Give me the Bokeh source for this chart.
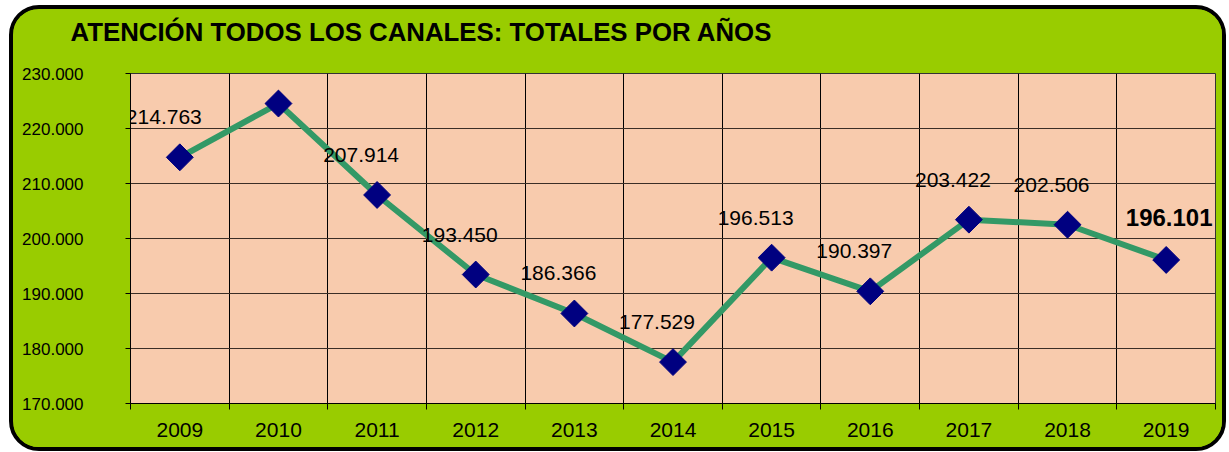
import math
from bokeh.plotting import figure
from bokeh.models import FixedTicker, Title
from bokeh.core.properties import value
from bokeh.embed import file_html
from bokeh.resources import INLINE

# ---- data ----
years = [2009, 2010, 2011, 2012, 2013, 2014, 2015, 2016, 2017, 2018, 2019]
totals = [214763, 224537, 207914, 193450, 186366, 177529, 196513, 190397, 203422, 202506, 196101]
y_ticks = [170000, 180000, 190000, 200000, 210000, 220000, 230000]
y_tick_labels = ["170.000", "180.000", "190.000", "200.000", "210.000", "220.000", "230.000"]
title_text = "ATENCIÓN TODOS LOS CANALES: TOTALES POR AÑOS"

labels = [f"{v:,}".replace(",", ".") for v in totals]
boundaries = [y - 0.5 for y in years] + [years[-1] + 0.5]

FONT = "Liberation Sans"
GREEN_BG = "#99CC00"

p = figure(
    title=None,
    width=1209, height=438,
    x_range=(years[0] - 0.5, years[-1] + 0.5),
    y_range=(y_ticks[0], y_ticks[-1]),
    output_backend="svg", toolbar_location=None,
    min_border_left=117, min_border_right=15, min_border_top=63, min_border_bottom=52,
    background_fill_color="#F8CBAD", border_fill_color=GREEN_BG,
    outline_line_color="#333333", outline_line_width=1,
    styles={"box-sizing": "content-box", "position": "absolute",
            "left": "9px", "top": "5px",
            "border": "4px solid black", "border-radius": "30px",
            "overflow": "hidden", "background-color": GREEN_BG},
)

# spacer panel between the frame and the title, then the title itself
p.add_layout(Title(text=" ", text_font_size="1px", standoff=15), "above")
p.add_layout(Title(text=title_text, text_font=FONT, text_font_size="25.8px",
                   text_font_style="bold", text_color="black", align="left",
                   vertical_align="top", offset=-60, standoff=16), "above")

# x axis
xa = p.xaxis[0]
xa.ticker = FixedTicker(ticks=years, minor_ticks=boundaries)
xa.major_tick_out = 0
xa.major_tick_in = 0
xa.minor_tick_out = 6
xa.minor_tick_in = 0
xa.minor_tick_line_color = "black"
xa.axis_line_color = "black"
xa.major_label_text_font = FONT
xa.major_label_text_font_size = "21px"
xa.major_label_text_color = "black"
xa.major_label_standoff = 13

# y axis
ya = p.yaxis[0]
ya.ticker = FixedTicker(ticks=y_ticks)
ya.major_label_overrides = dict(zip(y_ticks, y_tick_labels))
ya.major_tick_out = 5
ya.major_tick_in = 0
ya.minor_tick_line_color = None
ya.axis_line_color = "black"
ya.major_tick_line_color = "black"
ya.major_label_text_font = FONT
ya.major_label_text_font_size = "17px"
ya.major_label_text_color = "black"
ya.major_label_standoff = 42

# grids
p.xgrid.ticker = FixedTicker(ticks=boundaries)
p.xgrid.grid_line_color = "black"
p.xgrid.grid_line_width = 1
p.ygrid.ticker = FixedTicker(ticks=y_ticks)
p.ygrid.grid_line_color = "#3b2e26"
p.ygrid.grid_line_width = 1

# series
p.line(years, totals, line_color="#339966", line_width=6)
p.scatter(years, totals, marker="square", size=19, angle=math.pi / 4,
          fill_color="#000080", line_color="#000080")

# data labels
p.text(years[:-1], totals[:-1], text=labels[:-1], x_offset=-16, y_offset=-40,
       text_font=value(FONT), text_font_size="21px", text_color="black",
       text_align="center", text_baseline="middle")
p.text(years[-1:], totals[-1:], text=labels[-1:], x_offset=3, y_offset=-42,
       text_font=value(FONT), text_font_size="24px", text_font_style="bold",
       text_color="black", text_align="center", text_baseline="middle")

open("out.html", "w").write(file_html(p, INLINE))
